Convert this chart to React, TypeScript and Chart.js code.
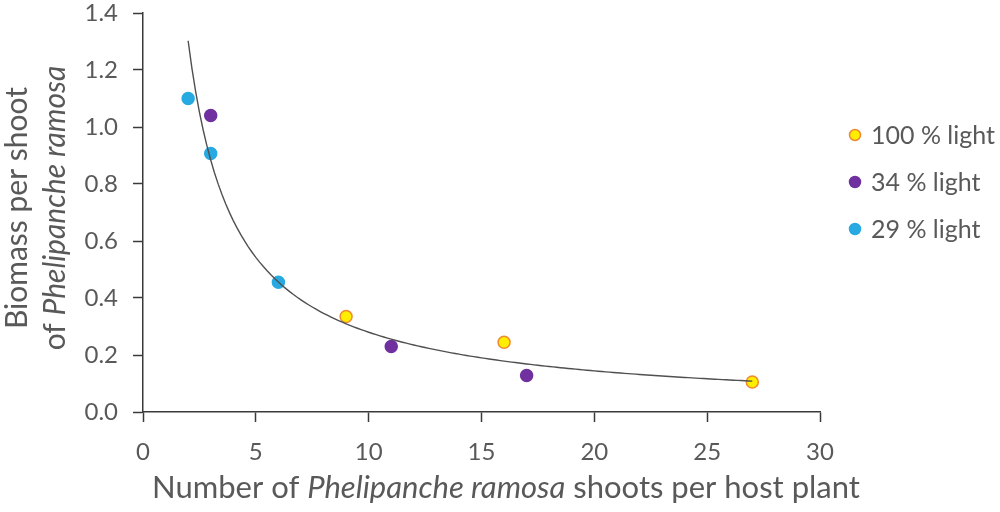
import React, { useEffect, useRef } from "react";
import { Chart, registerables } from "chart.js";

Chart.register(...registerables);

// ---- data ----
const seriesLabels = ["100 % light", "34 % light", "29 % light"];
const light100X = [9, 16, 27];
const light100Y = [0.335, 0.245, 0.105];
const light34X = [3, 11, 17];
const light34Y = [1.04, 0.23, 0.128];
const light29X = [2, 3, 6];
const light29Y = [1.1, 0.907, 0.455];
const xTickValues = [0, 5, 10, 15, 20, 25, 30];
const yTickValues = [0, 0.2, 0.4, 0.6, 0.8, 1.0, 1.2, 1.4];
const trendRange = [2, 27];

const xTitleParts = [
  { text: "Number of ", italic: false },
  { text: "Phelipanche ramosa", italic: true },
  { text: " shoots per host plant", italic: false },
];
const yTitleLine1 = [{ text: "Biomass per shoot", italic: false }];
const yTitleLine2 = [
  { text: "of ", italic: false },
  { text: "Phelipanche ramosa", italic: true },
];

// ---- styles ----
const FONT = "Lato, 'Open Sans', sans-serif";
const TEXT = "#595959";
const AXIS = "#3a3a3a";
const seriesFill = ["#FFEE00", "#7030A0", "#27A9E1"];
const seriesBorder = ["#F08A32", "#7030A0", "#27A9E1"];

// power-law least-squares fit (like a spreadsheet "power" trendline) computed from the data
function powerFit(xs: number[], ys: number[]) {
  const lx = xs.map((v) => Math.log(v));
  const ly = ys.map((v) => Math.log(v));
  const n = xs.length;
  const mx = lx.reduce((a, b) => a + b, 0) / n;
  const my = ly.reduce((a, b) => a + b, 0) / n;
  let sxy = 0;
  let sxx = 0;
  for (let i = 0; i < n; i++) {
    sxy += (lx[i] - mx) * (ly[i] - my);
    sxx += (lx[i] - mx) * (lx[i] - mx);
  }
  const b = sxy / sxx;
  const a = Math.exp(my - b * mx);
  return { a, b };
}

type Part = { text: string; italic: boolean };

function drawParts(ctx: CanvasRenderingContext2D, parts: Part[], cx: number, baseline: number, size: number) {
  const fonts = parts.map((p) => `${p.italic ? "italic " : ""}${size}px ${FONT}`);
  let total = 0;
  const widths = parts.map((p, i) => {
    ctx.font = fonts[i];
    const w = ctx.measureText(p.text).width;
    total += w;
    return w;
  });
  let x = cx - total / 2;
  ctx.textAlign = "left";
  ctx.textBaseline = "alphabetic";
  parts.forEach((p, i) => {
    ctx.font = fonts[i];
    ctx.fillText(p.text, x, baseline);
    x += widths[i];
  });
}

const decorPlugin = {
  id: "decor",
  afterDraw(chart: any) {
    const ctx: CanvasRenderingContext2D = chart.ctx;
    ctx.save();
    ctx.fillStyle = TEXT;
    // x title
    drawParts(ctx, xTitleParts, 506, 498, 31);
    // y title (two rotated lines)
    const cy = 208;
    ctx.save();
    ctx.translate(27, cy);
    ctx.rotate(-Math.PI / 2);
    drawParts(ctx, yTitleLine1, 0, 0, 30);
    ctx.restore();
    ctx.save();
    ctx.translate(65, cy);
    ctx.rotate(-Math.PI / 2);
    drawParts(ctx, yTitleLine2, 0, 0, 30);
    ctx.restore();
    // legend
    const rows = [135, 182, 229];
    seriesLabels.forEach((label, i) => {
      ctx.beginPath();
      ctx.arc(855, rows[i], 5.5, 0, Math.PI * 2);
      ctx.fillStyle = seriesFill[i];
      ctx.fill();
      ctx.lineWidth = 1.5;
      ctx.strokeStyle = seriesBorder[i];
      ctx.stroke();
      ctx.fillStyle = TEXT;
      ctx.font = `25px ${FONT}`;
      ctx.textAlign = "left";
      ctx.textBaseline = "middle";
      ctx.fillText(label, 871, rows[i] + 1);
    });
    ctx.restore();
  },
};

export default function App() {
  const ref = useRef<HTMLCanvasElement | null>(null);

  useEffect(() => {
    if (!ref.current) return;
    const allX = [...light100X, ...light34X, ...light29X];
    const allY = [...light100Y, ...light34Y, ...light29Y];
    const { a, b } = powerFit(allX, allY);
    const trend: { x: number; y: number }[] = [];
    const steps = 150;
    for (let i = 0; i <= steps; i++) {
      const x = trendRange[0] + ((trendRange[1] - trendRange[0]) * i) / steps;
      trend.push({ x, y: a * Math.pow(x, b) });
    }
    const pts = (xs: number[], ys: number[]) => xs.map((x, i) => ({ x, y: ys[i] }));
    const seriesData = [pts(light100X, light100Y), pts(light34X, light34Y), pts(light29X, light29Y)];

    const chart = new Chart(ref.current, {
      type: "scatter",
      data: {
        datasets: [
          {
            label: "trend",
            data: trend,
            showLine: true,
            borderColor: "#505050",
            borderWidth: 1.4,
            pointRadius: 0,
            fill: false,
            order: 0,
          } as any,
          ...seriesLabels.map((label, i) => ({
            label,
            data: seriesData[i],
            showLine: false,
            pointRadius: 6,
            pointBorderWidth: 1.5,
            pointBackgroundColor: seriesFill[i],
            pointBorderColor: seriesBorder[i],
            order: 1,
          })),
        ],
      },
      options: {
        animation: false,
        responsive: true,
        maintainAspectRatio: false,
        layout: { padding: { top: 0, right: 180, left: 0, bottom: 0 } },
        plugins: { legend: { display: false }, tooltip: { enabled: false } },
        scales: {
          x: {
            type: "linear",
            min: xTickValues[0],
            max: xTickValues[xTickValues.length - 1],
            afterBuildTicks: (s: any) => {
              s.ticks = xTickValues.map((v) => ({ value: v }));
            },
            afterFit: (s: any) => {
              s.height = 100;
              s.paddingLeft = 0;
              s.paddingRight = 0;
            },
            ticks: { color: TEXT, font: { family: FONT, size: 24 }, padding: 16 },
            grid: { drawOnChartArea: false, drawTicks: true, tickLength: 10, color: AXIS, tickWidth: 1.5 },
            border: { color: AXIS, width: 1.5 },
          },
          y: {
            type: "linear",
            min: yTickValues[0],
            max: yTickValues[yTickValues.length - 1],
            afterBuildTicks: (s: any) => {
              s.ticks = yTickValues.map((v) => ({ value: v }));
            },
            afterFit: (s: any) => {
              s.width = 143;
              s.paddingTop = 13;
              s.paddingBottom = 0;
            },
            ticks: {
              color: TEXT,
              font: { family: FONT, size: 24 },
              padding: 15,
              callback: (v: any) => Number(v).toFixed(1),
            },
            grid: { drawOnChartArea: false, drawTicks: true, tickLength: 10, color: AXIS, tickWidth: 1.5 },
            border: { color: AXIS, width: 1.5 },
          },
        },
      },
      plugins: [decorPlugin],
    });
    return () => chart.destroy();
  }, []);

  return (
    <div style={{ position: "absolute", left: 0, top: 0, width: 1000, height: 512, background: "#fff" }}>
      <canvas ref={ref} />
    </div>
  );
}
